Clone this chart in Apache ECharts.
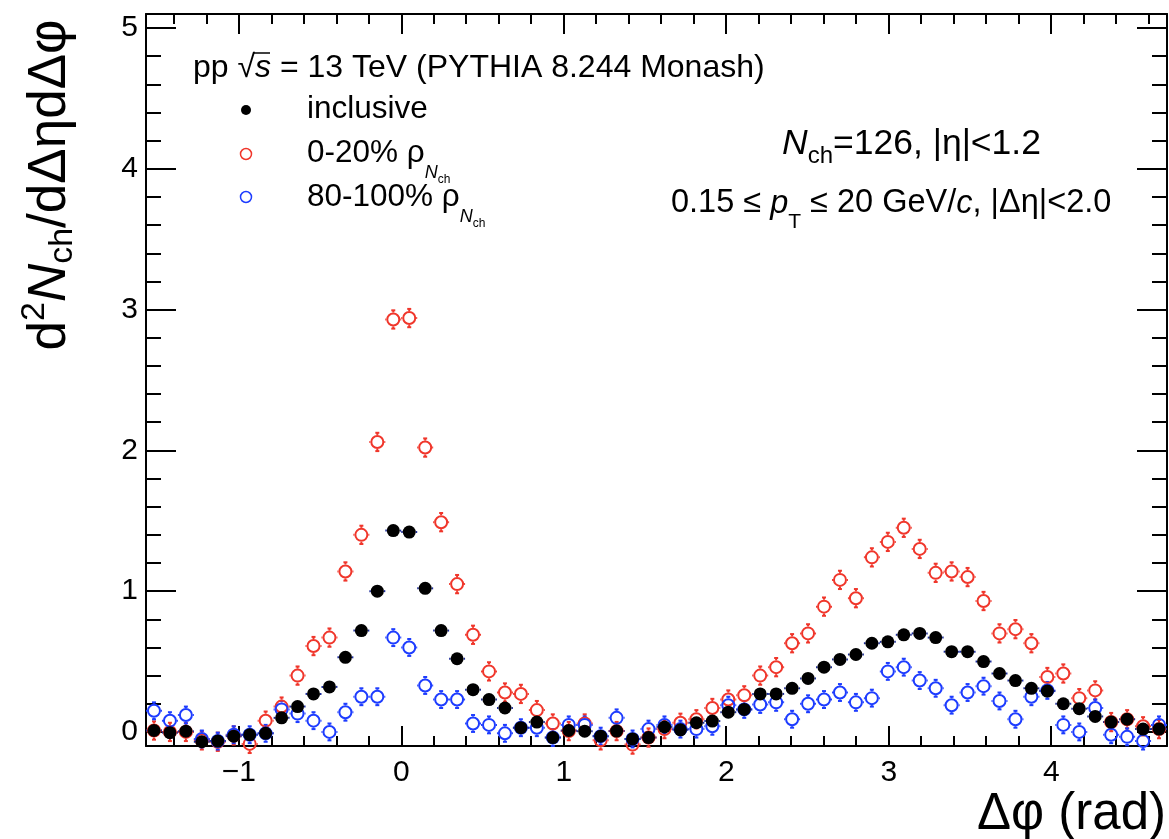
<!DOCTYPE html>
<html>
<head>
<meta charset="utf-8">
<script src="https://cdn.jsdelivr.net/npm/echarts@6/dist/echarts.min.js"></script>
<style>
html, body { margin: 0; padding: 0; background: #fff; }
#main { width: 1169px; height: 839px; }
</style>
</head>
<body>
<div id="main"></div>
<script>
// binning of delta phi: 64 bins from -pi/2 to 3pi/2
var nBins = 64;
var phiMin = -Math.PI / 2;
var phiMax = 3 * Math.PI / 2;
var binWidth = (phiMax - phiMin) / nBins;
var phiCenters = [];
for (var i = 0; i < nBins; i++) phiCenters.push(phiMin + (i + 0.5) * binWidth);

// inclusive (black)
var inclusive = [
  0.01, -0.005, 0.005, -0.07, -0.065, -0.03, -0.02, -0.01,
  0.10, 0.18, 0.27, 0.32, 0.53, 0.72, 1.00, 1.43,
  1.42, 1.02, 0.72, 0.52, 0.30, 0.23, 0.17, 0.03,
  0.07, -0.04, 0.01, 0.005, -0.03, 0.006, -0.05, -0.04,
  0.035, 0.015, 0.065, 0.077, 0.14, 0.16, 0.27, 0.27,
  0.31, 0.38, 0.46, 0.515, 0.55, 0.63, 0.64, 0.69,
  0.70, 0.67, 0.57, 0.57, 0.50, 0.415, 0.365, 0.31,
  0.29, 0.20, 0.165, 0.11, 0.07, 0.09, 0.02, 0.02
];
// 0-20% rho_Nch (red)
var rhoLow = [
  0.01, 0.0, 0.0, -0.06, -0.07, -0.025, -0.085, 0.08,
  0.18, 0.40, 0.61, 0.67, 1.14, 1.40, 2.06, 2.93,
  2.94, 2.02, 1.49, 1.05, 0.69, 0.43, 0.28, 0.27,
  0.155, 0.06, 0.006, 0.06, -0.06, 0.006, -0.09, -0.04,
  0.02, 0.065, 0.09, 0.17, 0.23, 0.26, 0.40, 0.46,
  0.63, 0.70, 0.89, 1.08, 0.95, 1.24, 1.35, 1.45,
  1.30, 1.13, 1.14, 1.10, 0.93, 0.70, 0.73, 0.63,
  0.39, 0.415, 0.24, 0.295, 0.07, 0.09, 0.04, 0.02
];
// 80-100% rho_Nch (blue)
var rhoHigh = [
  0.15, 0.08, 0.12, -0.05, -0.065, -0.02, -0.02, -0.01,
  0.16, 0.13, 0.08, 0.0, 0.14, 0.25, 0.25, 0.67,
  0.60, 0.33, 0.23, 0.23, 0.06, 0.05, -0.01, 0.03,
  0.03, -0.04, 0.05, 0.05, -0.03, 0.10, -0.05, 0.02,
  0.05, 0.02, 0.02, 0.04, 0.19, 0.16, 0.195, 0.21,
  0.09, 0.20, 0.23, 0.28, 0.21, 0.24, 0.43, 0.46,
  0.365, 0.31, 0.19, 0.28, 0.325, 0.22, 0.09, 0.25,
  0.295, 0.05, 0.0, 0.17, -0.02, -0.035, -0.065, 0.05
];
// stat. errors
var errInclusive = 0.02;
var errLow = 0.065;
var errHigh = 0.06;

var xMajorTicks = [-1, 0, 1, 2, 3, 4];
var yMajorTicks = [0, 1, 2, 3, 4, 5];
var xMinorTicks = [];
for (var t = -7; t <= 23; t++) xMinorTicks.push(Math.round(t * 0.2 * 10) / 10);
var yMinorTicks = [];
for (var t = 0; t <= 25; t++) yMinorTicks.push(Math.round(t * 0.2 * 10) / 10);

var yMin = -0.1, yMax = 5.1;
var fontMain = '"Liberation Sans", Arial, Helvetica, sans-serif';
var RED = '#f0362b';
var BLUE = '#1d3cff';

var myChart = echarts.init(document.getElementById('main'));

function xAxisDef(pos, ticks, len, withLine, withLabel) {
  return {
    type: 'value', min: phiMin, max: phiMax, position: pos,
    axisLine: { show: withLine, onZero: false, lineStyle: { color: '#000', width: 2 } },
    axisTick: { show: true, inside: true, length: len, customValues: ticks,
                lineStyle: { color: '#000', width: 2 } },
    axisLabel: { show: withLabel, customValues: xMajorTicks, margin: 12,
                 fontSize: 30, color: '#000', fontFamily: fontMain,
                 formatter: function (v) { return v < 0 ? '\u2212' + (-v) : '' + v; } },
    splitLine: { show: false }
  };
}
function yAxisDef(pos, ticks, len, withLine, withLabel) {
  return {
    type: 'value', min: yMin, max: yMax, position: pos,
    axisLine: { show: withLine, onZero: false, lineStyle: { color: '#000', width: 2 } },
    axisTick: { show: true, inside: true, length: len, customValues: ticks,
                lineStyle: { color: '#000', width: 2 } },
    axisLabel: { show: withLabel, customValues: yMajorTicks, margin: 8,
                 fontSize: 30, color: '#000', fontFamily: fontMain },
    splitLine: { show: false }
  };
}

// error bars drawn outside the marker (like ROOT does)
function errorSeries(name, values, err, color, r) {
  return {
    type: 'custom',
    name: name + '_err',
    xAxisIndex: 0, yAxisIndex: 0,
    silent: true, clip: false,
    data: values.map(function (v, i) { return [phiCenters[i], v]; }),
    renderItem: function (params, api) {
      var x = api.value(0), y = api.value(1);
      var c = api.coord([x, y]);
      var up = api.coord([x, y + err]);
      var dn = api.coord([x, y - err]);
      var lf = api.coord([x - binWidth / 2, y]);
      var rt = api.coord([x + binWidth / 2, y]);
      var st = { stroke: color, lineWidth: 2, fill: null };
      var kids = [];
      function seg(x1, y1, x2, y2) {
        kids.push({ type: 'line', shape: { x1: x1, y1: y1, x2: x2, y2: y2 }, style: st });
      }
      if (c[1] - up[1] > r) {
        seg(c[0], c[1] - r, c[0], up[1]);
        seg(c[0] - 2, up[1], c[0] + 2, up[1]);
      }
      if (dn[1] - c[1] > r) {
        seg(c[0], c[1] + r, c[0], dn[1]);
        seg(c[0] - 2, dn[1], c[0] + 2, dn[1]);
      }
      if (c[0] - lf[0] > r) {
        seg(lf[0], c[1], c[0] - r, c[1]);
        seg(c[0] + r, c[1], rt[0], c[1]);
      }
      return { type: 'group', children: kids };
    }
  };
}
function pointSeries(name, values, filled, color, size) {
  return {
    type: 'scatter',
    name: name,
    xAxisIndex: 0, yAxisIndex: 0,
    symbol: 'circle',
    symbolSize: size,
    silent: true,
    data: values.map(function (v, i) { return [phiCenters[i], v]; }),
    itemStyle: filled ? { color: color, opacity: 1 }
                      : { color: 'rgba(0,0,0,0)', borderColor: color, borderWidth: 2, opacity: 1 }
  };
}

// rich text piece; pad pushes the piece down (subscripts)
function rt(size, pad, italic) {
  var s = { fontSize: size, lineHeight: size + 4, verticalAlign: 'top',
            fontFamily: fontMain, fill: '#000' };
  if (pad) s.padding = [pad, 0, 0, 0];
  if (italic) s.fontStyle = 'italic';
  return s;
}

var option = {
  animation: false,
  backgroundColor: '#fff',
  grid: { left: 146, right: 2, top: 14, bottom: 93, containLabel: false },
  xAxis: [
    xAxisDef('bottom', xMajorTicks, 20, true, true),
    xAxisDef('bottom', xMinorTicks, 10, false, false),
    xAxisDef('top', xMajorTicks, 20, true, false),
    xAxisDef('top', xMinorTicks, 10, false, false)
  ],
  yAxis: [
    yAxisDef('left', yMajorTicks, 30, true, true),
    yAxisDef('left', yMinorTicks, 15, false, false),
    yAxisDef('right', yMajorTicks, 30, true, false),
    yAxisDef('right', yMinorTicks, 15, false, false)
  ],
  series: [
    errorSeries('0-20%', rhoLow, errLow, RED, 7),
    pointSeries('0-20%', rhoLow, false, RED, 12),
    errorSeries('80-100%', rhoHigh, errHigh, BLUE, 7),
    pointSeries('80-100%', rhoHigh, false, BLUE, 12),
    errorSeries('inclusive', inclusive, errInclusive, '#1a2a9a', 6.5),
    pointSeries('inclusive', inclusive, true, '#000', 13)
  ],
  graphic: [
    // header
    { type: 'text', x: 193, y: 68 - 16, z: 100, style: {
        text: '{m|pp \u221a}{i|s}{m| = 13 TeV (PYTHIA 8.244 Monash)}',
        textAlign: 'left', textVerticalAlign: 'top',
        rich: { m: rt(32), i: rt(32, 0, true) } } },
    { type: 'line', z: 100, shape: { x1: 253, y1: 53, x2: 270, y2: 53 },
      style: { stroke: '#000', lineWidth: 1.5 } },
    // legend markers
    { type: 'circle', z: 100, shape: { cx: 246, cy: 110, r: 5 }, style: { fill: '#000' } },
    { type: 'circle', z: 100, shape: { cx: 246, cy: 154, r: 5.5 }, style: { fill: null, stroke: RED, lineWidth: 1.5 } },
    { type: 'circle', z: 100, shape: { cx: 246, cy: 197, r: 5.5 }, style: { fill: null, stroke: BLUE, lineWidth: 1.5 } },
    // legend labels
    { type: 'text', x: 307, y: 109 - 16, z: 100, style: {
        text: '{m|inclusive}', textAlign: 'left', textVerticalAlign: 'top', rich: { m: rt(31.5) } } },
    { type: 'text', x: 307, y: 153 - 16, z: 100, style: {
        text: '{m|0-20% \u03c1}{n|N}{c|ch}', textAlign: 'left', textVerticalAlign: 'top',
        rich: { m: rt(31.5), n: rt(18, 27, true), c: rt(12, 37) } } },
    { type: 'text', x: 307, y: 197 - 16, z: 100, style: {
        text: '{m|80-100% \u03c1}{n|N}{c|ch}', textAlign: 'left', textVerticalAlign: 'top',
        rich: { m: rt(31.5), n: rt(18, 27, true), c: rt(12, 37) } } },
    // right-hand labels
    { type: 'text', x: 782, y: 144 - 18, z: 100, style: {
        text: '{n|N}{s|ch}{m|=126, |\u03b7|<1.2}', textAlign: 'left', textVerticalAlign: 'top',
        rich: { m: rt(35.5), n: rt(35.5, 0, true), s: rt(24, 18) } } },
    { type: 'text', x: 671, y: 203 - 16, z: 100, style: {
        text: '{m|0.15 \u2264 }{i|p}{s|T}{m| \u2264 20 GeV/}{i|c}{m|, |\u0394\u03b7|<2.0}',
        textAlign: 'left', textVerticalAlign: 'top',
        rich: { m: rt(32.5), i: rt(32.5, 0, true), s: rt(21, 25) } } },
    // y axis title
    { type: 'text', x: 46, y: 185, rotation: Math.PI / 2, z: 100, style: {
        text: '{m|d}{p|2}{n|N}{s|ch}{m|/d\u0394\u03b7d\u0394\u03c6}',
        textAlign: 'center', textVerticalAlign: 'middle',
        rich: { m: rt(53, 6), p: rt(34), n: rt(53, 6, true), s: rt(34, 28) } } },
    // x axis title
    { type: 'text', x: 1166, y: 815, z: 100, style: {
        text: '\u0394\u03c6 (rad)', textAlign: 'right', textVerticalAlign: 'middle',
        font: '51px ' + fontMain, fill: '#000' } }
  ]
};
myChart.setOption(option);
</script>
</body>
</html>
